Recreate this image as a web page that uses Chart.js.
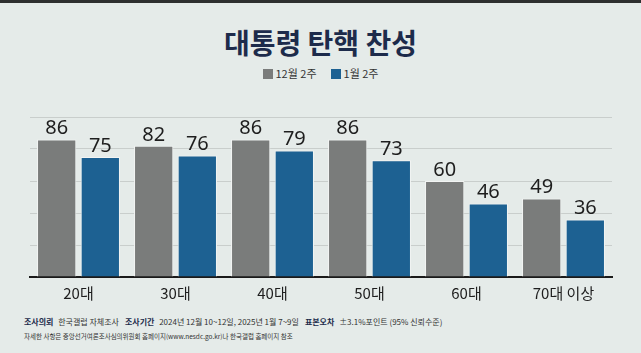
<!DOCTYPE html>
<html>
<head>
<meta charset="utf-8">
<script src="https://cdn.jsdelivr.net/npm/chart.js@4"></script>
<style>
  html, body { margin: 0; padding: 0; }
  body {
    width: 641px; height: 353px; overflow: hidden; position: relative;
    background: #e5ebe9;
    font-family: "Noto Sans CJK KR", "Noto Sans", sans-serif;
  }
  .topband { position: absolute; left: 0; top: 0; width: 641px; height: 3px; background: #2e2f2f; }
  .title {
    position: absolute; left: 0; width: 641px; top: 22px; text-align: center;
    font-size: 28px; font-weight: 700; color: #1d2b4b;
  }
  .legend { position: absolute; left: 0; width: 641px; top: 65px; text-align: center; font-size: 11px; color: #333; }
  .legend span.box { display: inline-block; width: 10px; height: 10px; vertical-align: -1px; margin-right: 3px; }
  .legend span.item { margin: 0 7px; }
  #wrap { position: absolute; left: 0; top: 100px; width: 641px; height: 210px; }
  .foot1 { position: absolute; left: 24px; top: 316px; font-size: 8px; color: #333; white-space: nowrap; }
  .foot1 b { color: #1d2b4b; margin-right: 3px; }
  .foot1 span { margin-right: 6px; }
  .foot2 { position: absolute; left: 24px; top: 331px; font-size: 6.5px; color: #333; white-space: nowrap; }
</style>
</head>
<body>
<div class="topband"></div>
<div class="title">대통령 탄핵 찬성</div>
<div class="legend" id="legend"></div>
<div id="wrap"><canvas id="chart"></canvas></div>
<div class="foot1"><b>조사의뢰</b> <span>한국갤럽 자체조사</span><b>조사기간</b> <span>2024년 12월 10~12일, 2025년 1월 7~9일</span><b>표본오차</b> <span>±3.1%포인트 (95% 신뢰수준)</span></div>
<div class="foot2">자세한 사항은 중앙선거여론조사심의위원회 홈페이지(www.nesdc.go.kr)나 한국갤럽 홈페이지 참조</div>

<script>
// data
const categories = ['20대', '30대', '40대', '50대', '60대', '70대 이상'];
const seriesNames = ['12월 2주', '1월 2주'];
const decValues = [86, 82, 86, 86, 60, 49];
const janValues = [75, 76, 79, 73, 46, 36];
const yTicks = [0, 20, 40, 60, 80, 100];

const colors = ['#7a7c7b', '#1d6192'];

// html legend
document.getElementById('legend').innerHTML = seriesNames.map((n, i) =>
    `<span class="item"><span class="box" style="background:${colors[i]}"></span>${n}</span>`
).join('');

// value labels above bars + category labels under the axis
const labelsPlugin = {
    id: 'labelsPlugin',
    afterDatasetsDraw(chart) {
        const ctx = chart.ctx;
        ctx.save();
        ctx.font = '20px "Noto Sans", sans-serif';
        ctx.fillStyle = '#1e1e1e';
        ctx.textAlign = 'center';
        ctx.textBaseline = 'bottom';
        chart.data.datasets.forEach((ds, i) => {
            chart.getDatasetMeta(i).data.forEach((bar, j) => {
                ctx.fillText(ds.data[j], bar.x, bar.y - 1);
            });
        });
        const xs = chart.scales.x;
        ctx.font = '15px "Noto Sans CJK KR", sans-serif';
        ctx.textBaseline = 'middle';
        categories.forEach((c, i) => {
            ctx.fillText(c, xs.getPixelForTick(i), chart.chartArea.bottom + 16);
        });
        ctx.restore();
    }
};

const ctx = document.getElementById('chart').getContext('2d');
const chart = new Chart(ctx, {
    type: 'bar',
    data: {
        labels: categories,
        datasets: [{
            label: seriesNames[0],
            data: decValues,
            backgroundColor: colors[0],
            borderColor: '#f2f4f3',
            borderWidth: 1,
            barPercentage: 0.9,
            categoryPercentage: 0.9
        }, {
            label: seriesNames[1],
            data: janValues,
            backgroundColor: colors[1],
            borderColor: '#f2f4f3',
            borderWidth: 1,
            barPercentage: 0.9,
            categoryPercentage: 0.9
        }]
    },
    options: {
        responsive: true,
        maintainAspectRatio: false,
        animation: false,
        layout: { padding: { left: 30, right: 29, top: 17, bottom: 25 } },
        plugins: {
            legend: { display: false },
            tooltip: { enabled: false }
        },
        scales: {
            x: {
                grid: { display: false },
                border: { display: true, color: '#1a1a1a', width: 2 },
                ticks: { display: false }
            },
            y: {
                min: 0,
                max: 100,
                afterBuildTicks: axis => { axis.ticks = yTicks.map(v => ({ value: v })); },
                grid: { color: 'rgba(0,0,0,0.12)', drawTicks: false },
                border: { display: false },
                ticks: { display: false }
            }
        }
    },
    plugins: [labelsPlugin]
});
</script>
</body>
</html>
